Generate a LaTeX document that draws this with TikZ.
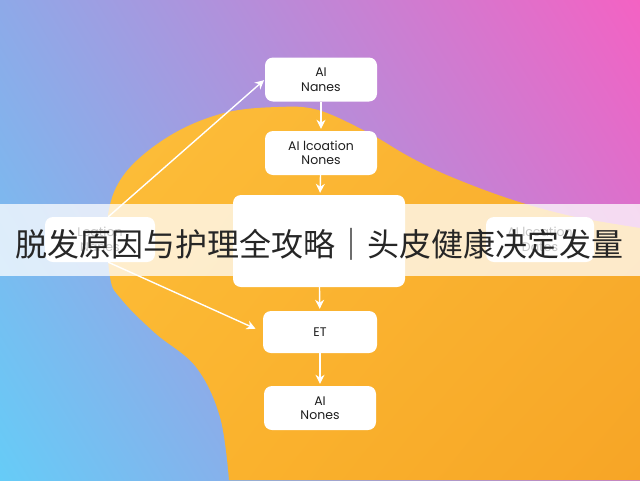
\documentclass[tikz,border=0pt]{standalone}
\usepackage{fontspec}
\setmainfont{Poppins}
\newfontfamily\cjk{Noto Sans CJK SC}
\usetikzlibrary{arrows.meta,shadings}
\definecolor{bgtl}{HTML}{8EA9E8}
\definecolor{bgtr}{HTML}{F462C3}
\definecolor{bgbl}{HTML}{66CCF7}
\definecolor{bgbr}{HTML}{C080D6}
\definecolor{blobtl}{HTML}{FDBE3A}
\definecolor{blobtr}{HTML}{F9B030}
\definecolor{blobbl}{HTML}{FBB62F}
\definecolor{blobbr}{HTML}{F7A526}
\definecolor{boxtext}{HTML}{1E1E1E}
\definecolor{titletext}{HTML}{262626}
\tikzset{
  flowbox/.style={fill=white, rounded corners=8pt, minimum width=112pt, minimum height=44pt,
    inner sep=0pt, align=center, text=boxtext, font=\fontsize{12.5}{14.5}\selectfont},
  flowarrow/.style={draw=white, line width=1.4pt, -{Stealth[length=9pt,width=9pt]}, shorten >=2pt}
}

\begin{document}
\begin{tikzpicture}[x=1pt,y=-1pt]
			%%%%% START %%%%%
			\useasboundingbox (0,0) rectangle (640,480);
			
			\shade[upper left=bgtl, upper right=bgtr, lower left=bgbl, lower right=bgbr] (0,0) rectangle (640,480);
			
			\shade[upper left=blobtl, upper right=blobtr, lower left=blobbl, lower right=blobbr]
				(640,480) -- plot[smooth, tension=0.6] coordinates {(640,228) (571,216) (510,199) (449,176) (408,156) (367,132) (318,110) (278,107) (224,113) (171,135) (126,172) (108,215) (110,277) (122,300) (155,333) (196,367) (220,417) (229,480)} -- cycle;
			
			\node[flowbox] (top) at (321,79.5) {AI\\Nanes};
			\node[flowbox] (loc) at (321,153) {AI lcoation\\Nones};
			\node[flowbox, minimum width=172pt, minimum height=92pt] (mid) at (319,241) {};
			\node[flowbox, minimum width=114pt, minimum height=42pt] (et) at (320,332) {ET};
			\node[flowbox] (bot) at (320,408) {AI\\Nones};
			
			\node[flowbox, minimum width=110pt, minimum height=45pt] (left) at (100,239.5) {Lcation\\Nanes};
			\node[flowbox, minimum width=108pt, minimum height=45pt] (right) at (540,239.5) {AI lccation\\Dates};
			
			\draw[flowarrow] (top) -- (loc);
			\draw[flowarrow] (loc) -- (mid);
			\draw[flowarrow] (mid) -- (et);
			\draw[flowarrow] (et) -- (bot);
			
			\draw[flowarrow, shorten >=1pt] (left.70) -- (top.west);
			\draw[flowarrow, shorten >=8pt] (left.-70) -- (et.west);
			
			\fill[white, opacity=0.75] (0,204) rectangle (640,276);
			\node[text=titletext, font=\cjk\fontsize{32}{32}\selectfont, inner sep=0pt] (title) at (320,244) {脱发原因与护理全攻略｜头皮健康决定发量};
			
			%%%%% END %%%%%
\end{tikzpicture}
\end{document}
